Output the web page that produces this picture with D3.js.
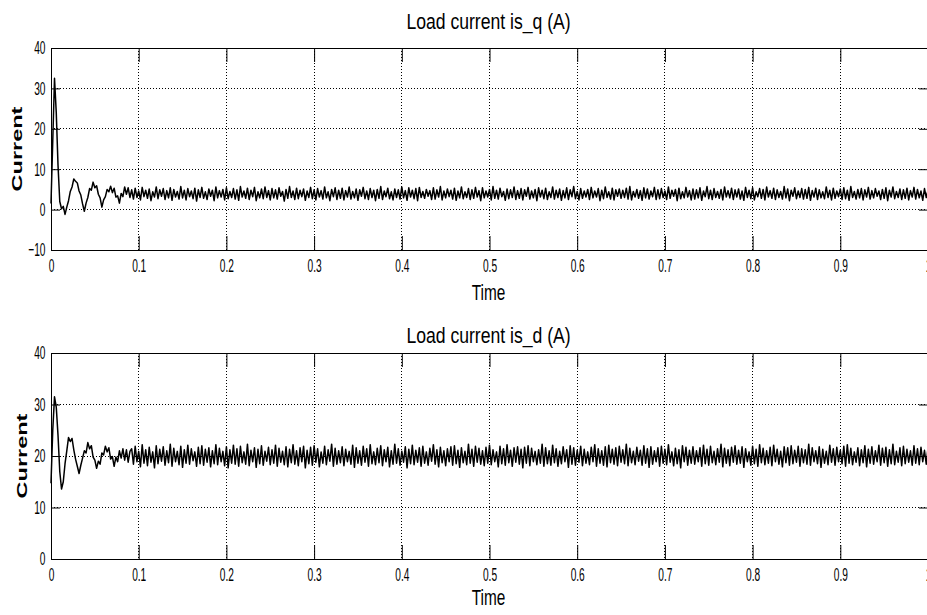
<!DOCTYPE html>
<html>
<head>
<meta charset="utf-8">
<script src="https://d3js.org/d3.v7.min.js"></script>
<title>Load current is_q / is_d</title>
<style>
body { margin: 0; background: #fff; }
svg { display: block; }
text { font-family: "Liberation Sans", Arial, sans-serif; fill: #000; }
.grid { stroke: #000; stroke-width: 1; stroke-dasharray: 1,2; shape-rendering: crispEdges; }
.trace { fill: none; stroke: #000; stroke-width: 1.5; stroke-linejoin: round; }
</style>
</head>
<body>
<svg id="svg" width="927" height="615"></svg>
<script>

// sample step of the traces (s)
const tStep = 0.002;

const xTicks = [0, 0.1, 0.2, 0.3, 0.4, 0.5, 0.6, 0.7, 0.8, 0.9, 1];
const xTickLabels = ["0", "0.1", "0.2", "0.3", "0.4", "0.5", "0.6", "0.7", "0.8", "0.9", "1"];
const isqTicks = [-10, 0, 10, 20, 30, 40];
const isdTicks = [0, 10, 20, 30, 40];
const titles = ["Load current is_q (A)", "Load current is_d (A)"];
const xLabel = "Time";
const yLabel = "Current";

// is_q (0 .. 1 s)
const isq = [
  1.5,17,32.5,24,11,2,0.2,0.8,-1.2,0.6,2.2,4.5,5.6,7.6,7.0,6.6,4.6,3.6,1.4,-0.4,
  1.6,3.0,5.2,4.8,6.8,5.4,5.9,3.8,2.9,0.6,2.4,3.2,5.0,4.4,5.8,4.2,5.3,3.1,3.4,1.6,
  4.0,3.2,5.6,3.8,5.4,3.0,
  4.9,2.6,5.3,3.0,4.6,2.4,5.5,3.2,4.8,2.8,5.1,2.2,4.4,3.1,5.6,2.7,4.9,3.3,5.2,2.5,
  4.7,2.9,5.4,2.3,5.0,3.1,4.5,2.6,5.7,2.9,4.8,2.4,5.2,3.2,4.6,2.7,5.3,2.1,4.9,3.0,
  5.5,2.8,4.4,2.5,5.1,3.3,4.8,2.2,5.6,2.9,4.7,3.1,5.0,2.4,5.4,2.7,4.5,3.0,5.2,2.6,
  4.9,2.3,5.7,3.1,4.6,2.8,5.3,2.5,4.8,3.2,5.5,2.2,4.4,2.9,5.1,2.7,5.6,3.0,4.7,2.4,
  5.2,2.9,4.9,2.6,5.4,3.3,4.5,2.1,5.0,2.8,5.7,3.0,4.6,2.5,5.3,2.7,4.8,3.2,5.1,2.3,
  4.6,3.0,5.5,2.7,4.9,2.4,5.2,3.1,4.7,2.6,5.6,2.9,4.4,2.2,5.0,3.2,5.4,2.5,4.8,2.8,
  5.3,2.4,4.7,3.1,5.6,2.6,4.5,2.9,5.1,2.3,4.9,3.3,5.5,2.7,4.6,2.5,5.2,3.0,4.8,2.2,
  5.0,2.8,5.7,2.5,4.6,3.2,5.3,2.7,4.4,2.4,5.1,3.0,4.9,2.6,5.6,2.9,4.7,2.3,5.4,3.1,
  4.8,2.7,5.2,2.2,5.5,3.0,4.5,2.8,5.0,3.3,4.7,2.5,5.4,2.6,4.9,3.1,5.7,2.4,4.6,2.9,
  5.1,3.2,4.8,2.6,5.3,2.3,4.6,2.9,5.6,2.7,4.4,3.0,5.2,2.5,4.9,2.8,5.5,3.1,4.7,2.2,
  5.4,2.9,4.6,3.1,5.0,2.4,5.7,2.8,4.8,2.6,5.3,3.2,4.5,2.3,5.1,2.7,4.9,3.0,5.6,2.5,
  4.7,2.8,5.2,2.4,4.9,3.3,5.5,2.6,4.6,2.9,5.0,2.2,5.4,3.1,4.8,2.7,5.3,2.5,4.4,3.0,
  5.6,2.6,4.8,3.0,5.1,2.3,4.7,2.9,5.4,2.5,4.9,3.2,5.7,2.7,4.5,2.4,5.2,2.8,4.6,3.1,
  5.0,2.5,5.5,2.9,4.6,3.1,5.2,2.2,4.8,2.7,5.6,3.0,4.4,2.6,5.3,2.4,4.9,3.3,5.1,2.8,
  4.8,3.0,5.3,2.6,5.7,2.4,4.5,3.1,5.0,2.8,4.7,2.3,5.4,2.9,5.1,2.6,4.6,3.2,5.5,2.5,
  4.9,2.7,5.2,3.0,4.6,2.5,5.6,2.8,4.8,3.3,5.0,2.2,5.3,2.7,4.4,2.9,5.5,3.1,4.7,2.4,
  5.1,2.6,4.9,2.9,5.4,2.3,4.6,3.2,5.7,2.7,4.8,2.5,5.2,3.0,4.5,2.8,5.0,2.4,5.6,3.1,
  4.7,2.9,5.3,2.5,4.9,3.1,5.1,2.6,4.6,2.3,5.5,3.0,4.8,2.7,5.4,2.4,4.4,3.2,5.2,2.8,
  5.0,2.4,5.6,3.1,4.7,2.8,5.3,2.5,4.9,3.0,4.5,2.6,5.7,2.9,5.1,2.2,4.8,3.3,5.4,2.7,
  4.6,3.0,5.2,2.6,5.0,2.8,5.5,2.3,4.7,3.1,5.3,2.5,4.9,2.9,4.4,2.7,5.6,3.0,4.8,2.4,
  5.3,2.8,4.6,3.2,5.1,2.5,5.4,2.7,4.8,2.3,5.7,3.0,4.5,2.6,5.0,2.9,5.2,2.4,4.9,3.1,
  5.5,2.6,4.7,2.9,5.2,3.3,4.6,2.5,5.0,2.8,5.4,2.2,4.8,3.1,5.6,2.7,4.5,3.0,5.1,2.5,
  4.9,2.8,5.3,2.4,4.7,3.1,5.5,2.6,5.0,2.9,4.6,2.3,5.2,3.0,4.8
];

// is_d (0 .. 1 s)
const isd = [
  14.7,25,31.5,29.5,24,17,13.6,15,18.5,21,23.6,22.8,23.4,21.2,19.4,18.0,16.6,18.2,19.6,21.0,
  20.6,22.6,21.4,22.0,19.8,19.2,17.6,19.0,18.4,20.6,20.2,21.9,20.8,21.6,19.4,19.9,18.0,19.8,18.9,21.0,
  19.6,21.4,19.2,21.2,18.8,20.9,
  21.4,18.4,21.9,18.9,20.9,17.9,22.2,18.6,21.2,18.1,21.7,18.8,20.8,17.7,22.0,18.5,21.3,19.0,21.8,18.2,
  21.0,18.7,22.3,18.0,21.5,18.9,20.9,18.3,21.9,17.8,21.2,18.6,22.1,18.4,21.4,19.1,20.8,18.0,21.7,18.5,
  22.0,18.2,21.3,18.8,21.6,17.9,21.0,18.5,22.2,18.3,21.5,18.9,20.9,18.1,21.8,17.7,21.2,18.6,22.1,18.4,
  21.4,18.0,21.9,18.7,20.8,18.4,22.3,18.1,21.1,18.9,21.6,17.8,21.3,18.5,22.0,18.2,20.9,19.0,21.7,18.3,
  21.2,18.6,22.1,18.0,21.5,18.8,20.9,18.3,21.8,17.9,21.3,18.7,22.2,18.4,21.0,18.1,21.6,18.9,21.9,17.7,
  21.1,18.5,21.7,18.2,22.0,18.8,21.4,17.9,20.8,18.6,21.9,18.3,21.2,19.0,22.3,18.0,21.5,18.4,21.0,18.7,
  21.8,18.1,21.3,18.9,20.9,18.4,22.1,17.8,21.6,18.6,21.0,18.2,21.9,18.8,21.4,18.0,22.2,18.5,20.8,18.3,
  21.5,18.7,22.0,18.1,21.2,18.9,21.7,17.9,21.0,18.4,22.3,18.6,21.4,18.2,20.9,18.8,21.8,17.7,21.3,18.5,
  22.1,18.3,21.1,18.8,21.6,18.0,21.9,18.6,20.8,18.2,21.5,19.0,22.2,18.4,21.2,17.9,21.7,18.7,21.0,18.1,
  21.4,18.9,21.8,18.2,22.0,18.5,21.1,17.8,21.6,18.7,20.9,18.3,22.3,18.6,21.3,18.0,21.9,18.8,21.5,18.4,
  21.0,18.1,21.7,18.6,22.1,18.3,21.2,18.9,20.8,17.9,21.9,18.5,21.4,18.2,22.2,18.7,21.1,18.0,21.6,18.8,
  21.8,18.4,21.3,17.7,21.7,18.6,22.0,18.1,21.5,18.9,20.9,18.3,21.2,18.6,22.3,18.0,21.6,18.5,21.0,18.2,
  22.1,18.7,21.4,18.0,20.9,18.5,21.8,18.9,21.2,17.8,22.0,18.4,21.6,18.2,21.1,18.8,21.9,18.1,21.3,18.6,
  20.8,18.3,21.7,18.9,22.2,18.0,21.4,18.6,21.0,18.2,21.8,17.9,22.1,18.7,21.3,18.4,21.6,18.1,21.9,18.8,
  21.2,18.5,22.3,18.1,21.5,18.7,20.9,18.3,21.7,19.0,21.1,18.2,22.0,18.6,21.4,17.8,21.8,18.4,21.0,18.9,
  21.6,18.0,21.9,18.6,21.3,18.3,22.2,18.8,20.8,18.1,21.5,18.5,21.2,17.7,22.0,18.9,21.7,18.2,21.1,18.6,
  21.8,18.4,21.0,18.9,21.6,18.0,22.1,18.5,21.3,18.2,21.9,18.7,20.9,18.3,21.4,18.8,22.3,17.9,21.5,18.6,
  21.2,18.1,21.7,18.8,22.0,18.4,21.1,18.6,21.8,17.8,21.4,18.9,20.8,18.2,21.9,18.5,21.3,18.0,22.2,18.7,
  21.5,18.3,21.0,18.6,21.7,18.1,22.1,18.9,21.3,18.4,20.9,17.9,21.8,18.7,21.6,18.2,22.0,18.5,21.1,18.8,
  21.9,18.0,21.4,18.7,21.2,18.4,22.3,18.2,21.6,18.9,21.0,18.5,21.8,17.8,21.3,18.6,20.9,18.3,22.1,18.8,
  21.4,18.2,21.7,18.9,21.1,18.5,21.9,18.0,22.2,18.6,21.5,18.3,20.8,18.8,21.6,18.1,21.2,18.7,22.0,17.9,
  21.3,18.6,21.8,18.4,21.0,18.9,22.1,18.2,21.5,18.7,21.7,18.0,21.2,18.5,22.3,18.3,20.9,18.8,21.6,18.1,
  21.9,18.5,21.3,18.8,21.0,18.2,22.0,18.6,21.4,18.3,21.7,18.9,21.1,18.4,21.6
];

let svg = d3.select("#svg");
let x = d3.scaleLinear().domain([0, 1]).range([51, 928]);

let tickFont = 18.5, tickSqueeze = 0.55;

function squeezeText(sel, sx) {
  sel.selectAll("text")
    .attr("font-family", null)
    .attr("font-size", tickFont)
    .attr("transform", "scale(" + sx + ",1)");
}

function drawPanel(p) {
  let y = d3.scaleLinear().domain(p.yDomain).range([p.bottom, p.top]);
  let g = svg.append("g");

  // dotted grid
  g.append("g").selectAll("line")
    .data(xTicks.slice(1, -1))
    .join("line")
      .attr("class", "grid")
      .attr("x1", d => x(d)).attr("x2", d => x(d))
      .attr("y1", p.top).attr("y2", p.bottom);
  g.append("g").selectAll("line")
    .data(p.yTicks.slice(1, -1))
    .join("line")
      .attr("class", "grid")
      .attr("x1", x(0)).attr("x2", x(1))
      .attr("y1", d => y(d)).attr("y2", d => y(d));

  // trace
  let line = d3.line()
    .x((d, i) => x(i * tStep))
    .y(d => y(d));
  g.append("path")
    .datum(p.values)
    .attr("class", "trace")
    .attr("d", line);

  // box with inward ticks
  let bottomAxis = g.append("g")
    .attr("transform", "translate(0," + p.bottom + ")")
    .attr("color", "#000")
    .call(d3.axisBottom(x).tickValues(xTicks)
      .tickFormat((d, i) => xTickLabels[i])
      .tickSize(-14).tickSizeOuter(0).tickPadding(8.5));
  squeezeText(bottomAxis, tickSqueeze);

  g.append("g")
    .attr("transform", "translate(0," + p.top + ")")
    .attr("color", "#000")
    .call(d3.axisTop(x).tickValues(xTicks).tickFormat("")
      .tickSize(-14).tickSizeOuter(0));

  let leftAxis = g.append("g")
    .attr("transform", "translate(" + x(0) + ",0)")
    .attr("color", "#000")
    .call(d3.axisLeft(y).tickValues(p.yTicks)
      .tickSize(-9).tickSizeOuter(0).tickPadding(10));
  squeezeText(leftAxis, tickSqueeze);

  g.append("g")
    .attr("transform", "translate(" + x(1) + ",0)")
    .attr("color", "#000")
    .call(d3.axisRight(y).tickValues(p.yTicks).tickFormat("")
      .tickSize(-9).tickSizeOuter(0));

  // title and labels
  g.append("text")
    .attr("transform", "translate(488.5," + p.titleY + ") scale(0.8,1)")
    .attr("text-anchor", "middle")
    .attr("font-size", 22)
    .text(p.title);

  g.append("text")
    .attr("transform", "translate(488.5," + p.xLabelY + ") scale(0.7,1)")
    .attr("text-anchor", "middle")
    .attr("font-size", 22)
    .text(xLabel);

  g.append("text")
    .attr("transform", "translate(" + p.yLabelX + "," + (p.top + p.bottom) / 2 + ") scale(0.63,1) rotate(-90)")
    .attr("text-anchor", "middle")
    .attr("dy", "0.36em")
    .attr("font-size", 23.5)
    .attr("font-weight", "bold")
    .text(yLabel);
}

drawPanel({ top: 48, bottom: 250, yDomain: [-10, 40], yTicks: isqTicks, values: isq,
  title: titles[0], titleY: 29, xLabelY: 300, yLabelX: 17 });
drawPanel({ top: 353, bottom: 559, yDomain: [0, 40], yTicks: isdTicks, values: isd,
  title: titles[1], titleY: 342.5, xLabelY: 605, yLabelX: 22 });

</script>
</body>
</html>
